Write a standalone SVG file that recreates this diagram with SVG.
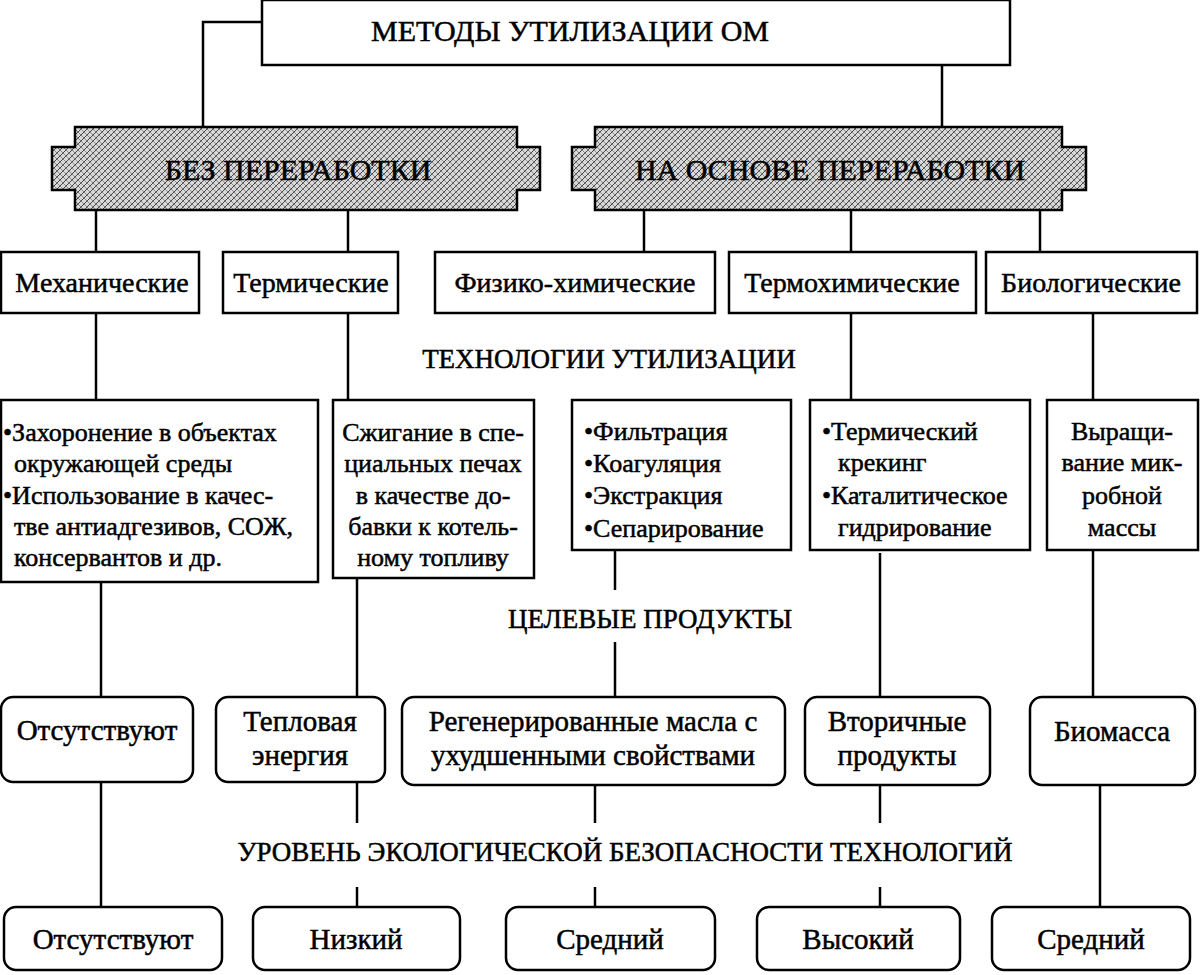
<svg xmlns="http://www.w3.org/2000/svg" width="1200" height="975" viewBox="0 0 1200 975">
<defs>
<pattern id="hatch" width="6" height="6" patternUnits="userSpaceOnUse">
<rect width="6" height="6" fill="#d8d8d8"/>
<path d="M0,6 L6,0 M-1,1 L1,-1 M5,7 L7,5" stroke="#444" stroke-width="1"/>
<path d="M0,0 L6,6 M-1,5 L1,7 M5,-1 L7,1" stroke="#777" stroke-width="0.8"/>
</pattern>
<style>
rect.b{fill:#fff;stroke:#000;stroke-width:2.5}
rect.r{fill:#fff;stroke:#000;stroke-width:2.5}
path.ban{fill:url(#hatch);stroke:#000;stroke-width:2.5}
text{font-family:"Liberation Serif","Times New Roman",serif;fill:#000;stroke:#000;stroke-width:0.5}
.t{font-size:28px}
.p{font-size:29px}
.s{font-size:26px}
.l{font-size:27px}
.h{font-size:30px}
.c{text-anchor:middle}
#connectors path{fill:none;stroke:#000;stroke-width:2.5}
</style>
</defs>
<rect width="1200" height="975" fill="#fff"/>
<g id="connectors">
<path d="M262,22 H203 V127"/>
<path d="M1010,22 H942 V127"/>
<path d="M96,210 V252"/><path d="M348,210 V252"/>
<path d="M644,210 V252"/><path d="M851,210 V252"/><path d="M1040,210 V252"/>
<path d="M96,313 V400"/><path d="M348,313 V400"/>
<path d="M851,313 V400"/><path d="M1093,313 V400"/>
<path d="M101,582 V697"/><path d="M357,578 V697"/>
<path d="M615,550 V590"/><path d="M615,642 V697"/>
<path d="M880,553 V697"/><path d="M1093,550 V697"/>
<path d="M101,782 V907"/>
<path d="M357,782 V823"/><path d="M357,887 V907"/>
<path d="M595,785 V823"/><path d="M595,887 V907"/>
<path d="M880,785 V823"/><path d="M880,887 V907"/>
<path d="M1100,785 V907"/>
</g>
<g id="title"><rect class="b" x="262" y="0" width="748" height="65"/><text class="h c" x="570" y="41">МЕТОДЫ УТИЛИЗАЦИИ ОМ</text></g>
<g id="bez"><path class="ban" d="M75,127 H517 V147 H540 V190 H517 V210 H75 V190 H52 V147 H75 Z"/><text class="h c" x="298" y="180">БЕЗ ПЕРЕРАБОТКИ</text></g>
<g id="na"><path class="ban" d="M595,127 H1062 V147 H1086 V190 H1062 V210 H595 V190 H572 V147 H595 Z"/><text class="h c" x="830" y="180">НА ОСНОВЕ ПЕРЕРАБОТКИ</text></g>
<g id="mech"><rect class="b" x="1" y="252" width="198" height="61"/><text class="t c" x="102" y="292">Механические</text></g>
<g id="term"><rect class="b" x="223" y="252" width="175" height="61"/><text class="t c" x="311" y="292">Термические</text></g>
<g id="fiz"><rect class="b" x="435" y="252" width="280" height="61"/><text class="t c" x="575" y="292">Физико-химические</text></g>
<g id="termochem"><rect class="b" x="729" y="252" width="247" height="61"/><text class="t c" x="852" y="292">Термохимические</text></g>
<g id="bio"><rect class="b" x="986" y="252" width="211" height="61"/><text class="t c" x="1091" y="292">Биологические</text></g>
<text class="l c" x="609" y="368">ТЕХНОЛОГИИ УТИЛИЗАЦИИ</text>
<g id="tech1"><rect class="b" x="1" y="400" width="317" height="182"/>
<text class="s" x="3" y="441">•Захоронение в объектах</text>
<text class="s" x="14" y="472">окружающей среды</text>
<text class="s" x="3" y="504">•Использование в качес-</text>
<text class="s" x="14" y="535">тве антиадгезивов, СОЖ,</text>
<text class="s" x="14" y="566">консервантов и др.</text></g>
<g id="tech2"><rect class="b" x="333" y="400" width="201" height="178"/>
<text class="s c" x="433" y="441">Сжигание в спе-</text>
<text class="s c" x="433" y="472">циальных печах</text>
<text class="s c" x="433" y="504">в качестве до-</text>
<text class="s c" x="433" y="535">бавки к котель-</text>
<text class="s c" x="433" y="566">ному топливу</text></g>
<g id="tech3"><rect class="b" x="572" y="400" width="219" height="150"/>
<text class="s" x="584" y="440">•Фильтрация</text>
<text class="s" x="584" y="472">•Коагуляция</text>
<text class="s" x="584" y="504">•Экстракция</text>
<text class="s" x="584" y="537">•Сепарирование</text></g>
<g id="tech4"><rect class="b" x="810" y="400" width="220" height="150"/>
<text class="s" x="822" y="440">•Термический</text>
<text class="s" x="838" y="471">крекинг</text>
<text class="s" x="822" y="504">•Каталитическое</text>
<text class="s" x="838" y="536">гидрирование</text></g>
<g id="tech5"><rect class="b" x="1047" y="400" width="151" height="150"/>
<text class="s c" x="1122" y="440">Выращи-</text>
<text class="s c" x="1122" y="471">вание мик-</text>
<text class="s c" x="1122" y="504">робной</text>
<text class="s c" x="1122" y="536">массы</text></g>
<text class="l c" x="650" y="628">ЦЕЛЕВЫЕ ПРОДУКТЫ</text>
<g id="p1"><rect class="r" x="1" y="697" width="192" height="85" rx="12"/><text class="p c" x="97" y="740">Отсутствуют</text></g>
<g id="p2"><rect class="r" x="216" y="697" width="169" height="85" rx="12"/><text class="p c" x="300" y="731">Тепловая</text><text class="p c" x="300" y="765">энергия</text></g>
<g id="p3"><rect class="r" x="402" y="697" width="383" height="88" rx="12"/><text class="p c" x="593" y="731">Регенерированные масла с</text><text class="p c" x="593" y="765">ухудшенными свойствами</text></g>
<g id="p4"><rect class="r" x="805" y="697" width="185" height="88" rx="12"/><text class="p c" x="897" y="731">Вторичные</text><text class="p c" x="897" y="765">продукты</text></g>
<g id="p5"><rect class="r" x="1030" y="697" width="165" height="88" rx="12"/><text class="p c" x="1112" y="741">Биомасса</text></g>
<text class="l c" x="625" y="861">УРОВЕНЬ ЭКОЛОГИЧЕСКОЙ БЕЗОПАСНОСТИ ТЕХНОЛОГИЙ</text>
<g id="l1"><rect class="r" x="4" y="907" width="218" height="63" rx="12"/><text class="p c" x="113" y="949">Отсутствуют</text></g>
<g id="l2"><rect class="r" x="253" y="907" width="207" height="63" rx="12"/><text class="p c" x="356" y="949">Низкий</text></g>
<g id="l3"><rect class="r" x="506" y="907" width="209" height="63" rx="12"/><text class="p c" x="610" y="949">Средний</text></g>
<g id="l4"><rect class="r" x="757" y="907" width="203" height="63" rx="12"/><text class="p c" x="858" y="949">Высокий</text></g>
<g id="l5"><rect class="r" x="992" y="907" width="198" height="63" rx="12"/><text class="p c" x="1091" y="949">Средний</text></g>
</svg>
